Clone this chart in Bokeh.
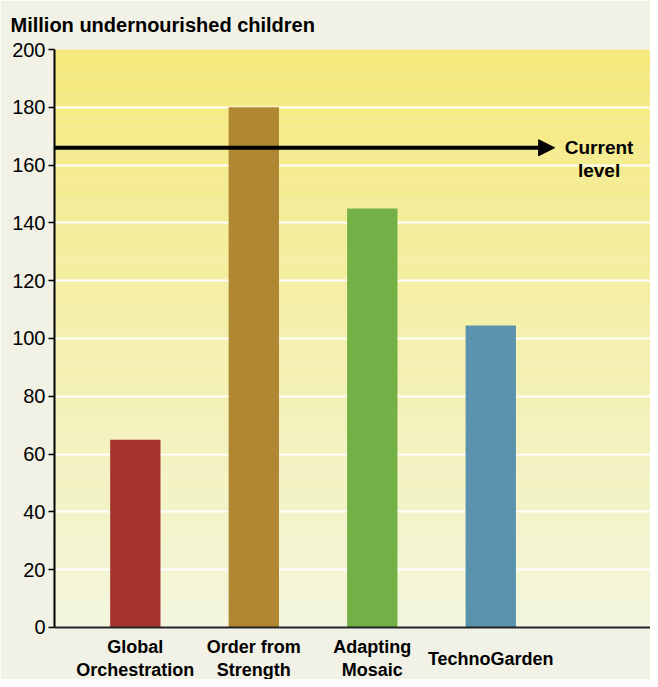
import numpy as np
from bokeh.plotting import figure
from bokeh.models import Range1d, FixedTicker, Arrow, NormalHead, Label, ColumnDataSource
from bokeh.core.properties import value
from bokeh.embed import file_html
from bokeh.resources import INLINE

# ---- data ----
scenarios = ["Global\nOrchestration", "Order from\nStrength", "Adapting\nMosaic", "TechnoGarden"]
children = [65, 180, 145, 104.5]
bar_colors = ["#a8352d", "#b08733", "#73b147", "#5b93ae"]
current_level = 166
y_ticks = [0, 20, 40, 60, 80, 100, 120, 140, 160, 180, 200]
title_text = "Million undernourished children"
current_label = "Current\nlevel"

positions = list(range(1, len(scenarios) + 1))

FONT = "Liberation Sans"
OUTER_BG = "#f2f1e6"
X0, X1 = 0.318, 5.348
Y_MAX = 200
Y_LABELS = -10.9   # label row below the zero line
Y_BOTTOM = -18.0

p = figure(width=650, height=679, output_backend="svg", toolbar_location=None,
           x_range=Range1d(X0, X1), y_range=Range1d(Y_BOTTOM, Y_MAX),
           min_border_left=54, min_border_right=0, min_border_top=49, min_border_bottom=0)
p.border_fill_color = OUTER_BG
p.background_fill_color = OUTER_BG
p.outline_line_color = None

# gradient background of the plotting area (style only)
edges = np.linspace(0, Y_MAX, 201)
top_rgb = np.array([245, 233, 122])
bot_rgb = np.array([243, 246, 221])
t = (edges[:-1] + edges[1:]) / 2 / Y_MAX
cols = ["#%02x%02x%02x" % tuple(int(round(c)) for c in (bot_rgb + (top_rgb - bot_rgb) * ti)) for ti in t]
bg = p.quad(left=X0, right=X1, bottom=edges[:-1], top=np.minimum(edges[1:] + 0.05, Y_MAX),
            fill_color=cols, line_color=None)
bg.level = "image"

# bars
src = ColumnDataSource(dict(x=positions, top=children, color=bar_colors))
p.vbar(x="x", top="top", width=0.425, bottom=0, color="color", line_color=None, source=src)

# grid
p.xgrid.grid_line_color = None
p.ygrid.ticker = FixedTicker(ticks=y_ticks)
p.ygrid.grid_line_color = "white"
p.ygrid.grid_line_width = 2

# y axis
p.yaxis.ticker = FixedTicker(ticks=y_ticks)
p.yaxis.bounds = (0, Y_MAX)
p.yaxis.major_label_text_font = FONT
p.yaxis.major_label_text_font_size = "20px"
p.yaxis.major_label_text_color = "black"
p.yaxis.axis_line_color = "black"
p.yaxis.axis_line_width = 2
p.yaxis.major_tick_in = 0
p.yaxis.major_tick_out = 6
p.yaxis.major_tick_line_width = 1.5
p.yaxis.major_tick_line_color = "black"
p.yaxis.minor_tick_line_color = None
p.yaxis.major_label_standoff = 3

# x axis: zero line + category labels
p.xaxis.visible = False
p.segment(x0=[X0], y0=[0], x1=[X1], y1=[0], line_color="#222222", line_width=2)
p.text(x=positions, y=[Y_LABELS] * len(positions), text=scenarios,
       text_font=value(FONT), text_font_style="bold", text_font_size="18px",
       text_align="center", text_baseline="middle", text_line_height=1.15,
       text_color="black")

# title
p.title.text = title_text
p.title.text_font = FONT
p.title.text_font_style = "bold"
p.title.text_font_size = "20px"
p.title.text_color = "black"
p.title.align = "left"
p.title.offset = -44
p.title.standoff = 23
p.title.vertical_align = "top"

# current level arrow
arrow = Arrow(x_start=X0, y_start=current_level, x_end=4.539, y_end=current_level,
              line_width=4, line_color="black",
              end=NormalHead(size=16, fill_color="black", line_color="black", line_width=1))
p.add_layout(arrow)
p.add_layout(Label(x=4.914, y=162.1, text=current_label,
                   text_font=FONT, text_font_style="bold", text_font_size="19px",
                   text_align="center", text_baseline="middle", text_line_height=1.1,
                   text_color="black"))

open("out.html", "w").write(file_html(p, INLINE))
